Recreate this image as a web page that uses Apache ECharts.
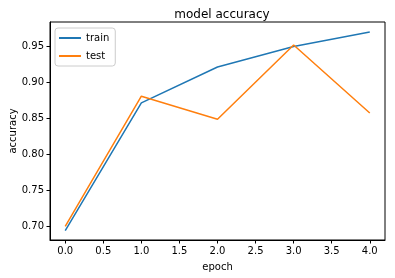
<!DOCTYPE html>
<html><head><meta charset="utf-8">
<script src="https://cdn.jsdelivr.net/npm/echarts@6/dist/echarts.min.js"></script>
<style>html,body{margin:0;padding:0;background:#fff}#c{width:395px;height:278px}</style>
</head><body><div id="c"></div>
<script>
const epochs = [0, 1, 2, 3, 4];
const train = [0.6945, 0.8717, 0.9215, 0.9500, 0.9700];
const test = [0.7005, 0.8810, 0.8490, 0.9520, 0.8578];
const xTicks = [0, 0.5, 1, 1.5, 2, 2.5, 3, 3.5, 4];
const yTicks = [0.70, 0.75, 0.80, 0.85, 0.90, 0.95];

const font = 'DejaVu Sans';
const chart = echarts.init(document.getElementById('c'), null, {renderer: 'canvas'});
chart.setOption({
  animation: false,
  title: {text: 'model accuracy', left: 217, top: 4, textAlign: 'center',
    textStyle: {fontFamily: font, fontSize: 12, fontWeight: 'normal', color: '#000'}},
  legend: {
    orient: 'vertical', left: 55, top: 28, padding: [5, 6, 5, 4],
    icon: 'rect', itemWidth: 22, itemHeight: 2, itemGap: 8,
    borderColor: '#ccc', borderWidth: 1, borderRadius: 3,
    textStyle: {fontFamily: font, fontSize: 10, color: '#000'},
    data: ['train', 'test']
  },
  grid: {left: 50, top: 22, right: 10, bottom: 38, show: true, borderColor: '#000', borderWidth: 1,
    containLabel: false, outerBoundsMode: 'none'},
  xAxis: {
    type: 'value', min: -0.2, max: 4.2,
    name: 'epoch', nameLocation: 'middle', nameGap: 22, nameMoveOverlap: false,
    nameTextStyle: {fontFamily: font, fontSize: 10, color: '#000'},
    axisLine: {show: true, onZero: false, lineStyle: {color: '#000'}},
    axisTick: {show: true, length: 3.5, customValues: xTicks, lineStyle: {color: '#000'}},
    axisLabel: {customValues: xTicks, fontFamily: font, fontSize: 10, color: '#000', margin: 6,
      formatter: v => v.toFixed(1)},
    splitLine: {show: false}
  },
  yAxis: {
    type: 'value', min: 0.6815, max: 0.984,
    name: 'accuracy', nameLocation: 'middle', nameGap: 32, nameMoveOverlap: false,
    nameTextStyle: {fontFamily: font, fontSize: 10, color: '#000'},
    axisLine: {show: true, onZero: false, lineStyle: {color: '#000'}},
    axisTick: {show: true, length: 3.5, customValues: yTicks, lineStyle: {color: '#000'}},
    axisLabel: {customValues: yTicks, fontFamily: font, fontSize: 10, color: '#000', margin: 6,
      formatter: v => v.toFixed(2)},
    splitLine: {show: false}
  },
  series: [
    {name: 'train', type: 'line', symbol: 'none', data: epochs.map((e, i) => [e, train[i]]),
      lineStyle: {color: '#1f77b4', width: 1.5}, itemStyle: {color: '#1f77b4'}},
    {name: 'test', type: 'line', symbol: 'none', data: epochs.map((e, i) => [e, test[i]]),
      lineStyle: {color: '#ff7f0e', width: 1.5}, itemStyle: {color: '#ff7f0e'}}
  ]
});
</script></body></html>
